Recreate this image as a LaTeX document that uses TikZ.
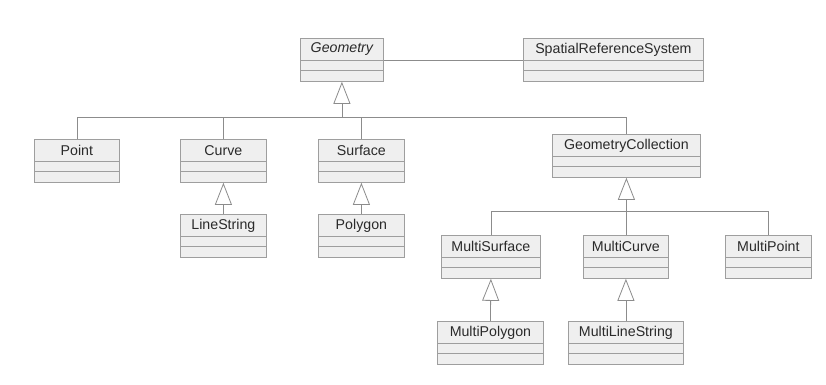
\documentclass[tikz,border=0pt]{standalone}
\usepackage{fontspec}
\setmainfont{Liberation Sans}
\usetikzlibrary{arrows.meta}
\definecolor{boxfill}{HTML}{EFEFEF}
\definecolor{boxline}{HTML}{9E9E9E}
\definecolor{connclr}{HTML}{8C8C8C}
\definecolor{txt}{HTML}{2A2A2A}
\tikzset{
  clstitle/.style={draw=boxline, fill=boxfill, line width=0.8pt, minimum height=22pt,
    inner sep=0pt, text=txt, font=\fontsize{14.2}{16}\selectfont},
  clsbox/.style={draw=boxline, fill=boxfill, line width=0.8pt},
  connline/.style={draw=connclr, line width=0.8pt},
  gen/.style={connline, -{Triangle[open, length=22pt, width=17pt]}}
}
\newcommand{\umlcls}[5]{%
  \node[clstitle, minimum width=#4pt, anchor=north west] (#1) at (#2,#3) {#5};
  \draw[clsbox] (#1.south west) rectangle ([yshift=-10pt]#1.south east);
  \draw[clsbox] ([yshift=-10pt]#1.south west) rectangle ([yshift=-21pt]#1.south east);
  \coordinate (#1-b) at ([yshift=-21pt]#1.south);}
\begin{document}
\begin{tikzpicture}[x=1pt, y=-1pt]
\useasboundingbox[fill=white] (0,0) rectangle (826,384);
\umlcls{geometry}{300}{38}{83}{\itshape Geometry}
\umlcls{srs}{523}{38}{180}{SpatialReferenceSystem}
\umlcls{point}{34}{139}{85}{Point}
\umlcls{curve}{180}{139}{86}{Curve}
\umlcls{surface}{318}{139}{86}{Surface}
\umlcls{linestring}{180}{214}{86}{LineString}
\umlcls{polygon}{318}{214}{86}{Polygon}
\umlcls{gc}{552}{134}{148}{GeometryCollection}
\umlcls{multisurface}{441}{235}{99}{MultiSurface}
\umlcls{multicurve}{583}{235}{85}{MultiCurve}
\umlcls{multipoint}{725}{235}{86}{MultiPoint}
\umlcls{multipolygon}{437}{321}{106}{MultiPolygon}
\umlcls{multilinestring}{568}{321}{115}{MultiLineString}
% association
\draw[connline] (geometry.south east) -- (srs.south west);
% Geometry hierarchy
\path (geometry-b) ++(0,36) coordinate (bus1);
\draw[connline] (point.north) |- (bus1) -| (gc.north);
\draw[connline] (curve.north) -- (curve.north |- bus1);
\draw[connline] (surface.north) -- (surface.north |- bus1);
\draw[gen] (bus1) -- (geometry-b);
\draw[gen] (linestring.north) -- (curve-b);
\draw[gen] (polygon.north) -- (surface-b);
% GeometryCollection hierarchy
\path (gc-b) ++(0,34) coordinate (bus2);
\draw[connline] (multisurface.north) |- (bus2) -| (multipoint.north);
\draw[connline] (multicurve.north) -- (multicurve.north |- bus2);
\draw[gen] (bus2) -- (gc-b);
\draw[gen] (multipolygon.north) -- (multisurface-b);
\draw[gen] (multilinestring.north) -- (multicurve-b);
\end{tikzpicture}
\end{document}
